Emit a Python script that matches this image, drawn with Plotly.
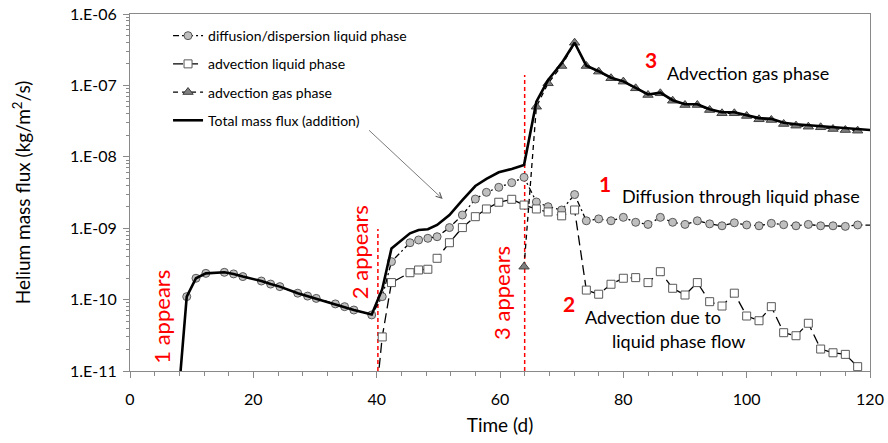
import plotly.graph_objects as go

FONT = "Lato, Carlito, Calibri, sans-serif"

# ---------------- data ----------------
diff_days = [9.2, 10.7, 12.3, 15.3, 16.8, 18.3, 21.3, 22.8, 24.3, 27.2, 28.8, 30.2, 33.3, 34.8, 36.3, 39.2,
             40.9, 42.4, 45.4, 46.8, 48.3, 49.8, 51.8, 53.9, 56.0, 57.8, 59.8, 61.9, 63.9, 65.9, 67.8, 70.0, 72.1,
             74, 76, 78, 80, 82, 84, 86, 88, 90, 92, 94, 96, 98, 100, 102, 104, 106, 108, 110, 112, 114, 116, 118, 122]
diff_vals = [1.10e-10, 1.99e-10, 2.33e-10, 2.41e-10, 2.29e-10, 2.10e-10, 1.82e-10, 1.65e-10, 1.52e-10, 1.23e-10,
             1.12e-10, 1.04e-10, 8.7e-11, 7.96e-11, 7.15e-11, 6.1e-11,
             1.10e-10, 3.40e-10, 6.26e-10, 6.84e-10, 7.22e-10, 7.60e-10, 1.02e-9, 1.53e-9, 2.56e-9, 3.18e-9,
             3.74e-9, 4.34e-9, 5.16e-9, 2.33e-9, 2.0e-9, 1.80e-9, 2.96e-9,
             1.27e-9, 1.35e-9, 1.27e-9, 1.42e-9, 1.21e-9, 1.13e-9, 1.42e-9, 1.21e-9, 1.13e-9, 1.27e-9, 1.15e-9,
             1.08e-9, 1.19e-9, 1.11e-9, 1.08e-9, 1.17e-9, 1.12e-9, 1.08e-9, 1.13e-9, 1.08e-9, 1.08e-9, 1.06e-9,
             1.11e-9, 1.10e-9]

adv_liq_days = [39.2, 40.9, 42.4, 45.4, 46.8, 48.3, 49.8, 51.8, 53.9, 56.0, 57.8, 59.8, 61.9, 63.9, 65.9, 67.8,
                70.0, 72.1, 74, 76, 78, 80, 82, 84, 86, 88, 90, 92, 94, 96, 98, 100, 102, 104, 106, 108, 110,
                112, 114, 116, 118]
adv_liq_vals = [1.0e-12, 3.0e-11, 1.73e-10, 2.38e-10, 2.60e-10, 2.66e-10, 3.79e-10, 6.26e-10, 1.02e-9, 1.45e-9,
                1.86e-9, 2.31e-9, 2.54e-9, 2.11e-9, 1.86e-9, 1.69e-9, 1.49e-9, 1.80e-9,
                1.36e-10, 1.19e-10, 1.64e-10, 1.99e-10, 2.03e-10, 1.73e-10, 2.46e-10, 1.44e-10, 1.16e-10,
                1.73e-10, 9.35e-11, 8.13e-11, 1.23e-10, 5.89e-11, 5.06e-11, 7.96e-11, 3.44e-11, 3.12e-11,
                4.66e-11, 2.03e-11, 1.80e-11, 1.71e-11, 1.15e-11]

adv_gas_days = [63.9, 65.9, 67.8, 70.0, 72.1, 74, 76, 78, 80, 82, 84, 86, 88, 90, 92, 94, 96, 98, 100, 102,
                104, 106, 108, 110, 112, 114, 116, 118]
adv_gas_vals = [2.89e-10, 5.03e-8, 1.07e-7, 1.87e-7, 3.96e-7, 1.87e-7, 1.56e-7, 1.26e-7, 1.13e-7, 9.1e-8,
                7.34e-8, 7.75e-8, 6.1e-8, 5.31e-8, 5.31e-8, 4.52e-8, 4.07e-8, 4.07e-8, 3.73e-8, 3.35e-8,
                3.28e-8, 2.88e-8, 2.73e-8, 2.64e-8, 2.59e-8, 2.45e-8, 2.37e-8, 2.32e-8]

total_days = [7.7, 9.2, 10.7, 12.3, 15.3, 16.8, 18.3, 21.3, 22.8, 24.3, 27.2, 28.8, 30.2, 33.3, 34.8, 36.3, 39.2,
              40.9, 42.4, 45.4, 46.8, 48.3, 49.8, 51.8, 53.9, 56.0, 57.8, 59.8, 61.9, 63.9, 65.9, 67.8, 70.0, 72.1,
              74, 76, 78, 80, 82, 84, 86, 88, 90, 92, 94, 96, 98, 100, 102, 104, 106, 108, 110, 112, 114, 116,
              118, 122]
total_vals = [3.0e-12, 1.10e-10, 1.99e-10, 2.33e-10, 2.41e-10, 2.29e-10, 2.10e-10, 1.82e-10, 1.65e-10, 1.52e-10,
              1.23e-10, 1.12e-10, 1.04e-10, 8.7e-11, 7.96e-11, 7.15e-11, 6.2e-11,
              1.4e-10, 5.2e-10, 8.49e-10, 9.44e-10, 9.66e-10, 1.11e-9, 1.53e-9, 2.48e-9, 3.90e-9, 4.89e-9,
              6.07e-9, 6.75e-9, 7.67e-9, 5.91e-8, 1.19e-7, 2.04e-7, 3.96e-7,
              1.89e-7, 1.58e-7, 1.28e-7, 1.14e-7, 9.25e-8, 7.46e-8, 7.9e-8, 6.2e-8, 5.45e-8, 5.45e-8, 4.65e-8,
              4.2e-8, 4.2e-8, 3.85e-8, 3.48e-8, 3.4e-8, 3.0e-8, 2.85e-8, 2.76e-8, 2.7e-8, 2.57e-8, 2.48e-8,
              2.43e-8, 2.3e-8]

appear_days = [40.2, 64.0]
appear_tops = [9.75e-10, 1.4e-7]

x_tick_vals = [0, 20, 40, 60, 80, 100, 120]
y_tick_vals = [1e-11, 1e-10, 1e-9, 1e-8, 1e-7, 1e-6]
y_tick_text = ["1.E-11", "1.E-10", "1.E-09", "1.E-08", "1.E-07", "1.E-06"]
y_minor_vals = [m * v for v in y_tick_vals[:-1] for m in range(2, 10)]

names = ["diffusion/dispersion liquid phase", "advection liquid phase", "advection gas phase",
         "Total mass flux (addition)"]

fig = go.Figure()

# red "appears" markers
for d, top in zip(appear_days, appear_tops):
    fig.add_trace(go.Scatter(x=[d, d], y=[1e-11, top], mode="lines", showlegend=False,
                             line=dict(color="#ff0000", width=1.5, dash="4px,3px"), hoverinfo="skip"))

fig.add_trace(go.Scatter(x=diff_days, y=diff_vals, name=names[0], mode="lines+markers", legendgroup="a",
                         line=dict(color="black", width=1.3, dash="6px,3px,2px,3px"),
                         marker=dict(symbol="circle", size=8, color="#bfbfbf",
                                     line=dict(color="#595959", width=1))))
fig.add_trace(go.Scatter(x=adv_liq_days, y=adv_liq_vals, name=names[1], mode="lines+markers", legendgroup="b",
                         line=dict(color="black", width=1.3, dash="10px,5px"),
                         marker=dict(symbol="square", size=8, color="white",
                                     line=dict(color="#595959", width=1))))
fig.add_trace(go.Scatter(x=adv_gas_days, y=adv_gas_vals, name=names[2], mode="lines+markers", legendgroup="c",
                         line=dict(color="black", width=1.3, dash="5px,4px"),
                         marker=dict(symbol="triangle-up", size=9, color="#7f7f7f",
                                     line=dict(color="#404040", width=1))))
fig.add_trace(go.Scatter(x=total_days, y=total_vals, name=names[3], mode="lines", legendgroup="d",
                         line=dict(color="black", width=2.6)))

red = dict(family=FONT, size=22, color="#ff0000")
ann = []
for txt, x, y in [("1 appears", 5.06, -10.237), ("2 appears", 37.24, -9.34), ("3 appears", 60.23, -9.90)]:
    ann.append(dict(x=x, y=y, text=txt, showarrow=False, textangle=-90, font=red,
                    xanchor="center", yanchor="middle"))
redb = dict(family=FONT, size=21, color="#ff0000", weight="bold")
for txt, x, y in [("3", 84.46, -6.644), ("1", 76.99, -8.367), ("2", 71.15, -10.048)]:
    ann.append(dict(x=x, y=y, text="<b>" + txt + "</b>", showarrow=False, font=redb,
                    xanchor="center", yanchor="middle"))
blk = dict(family=FONT, size=18, color="black")
ann.append(dict(x=86.73, y=-6.826, text="Advection gas phase", showarrow=False, font=blk,
                xanchor="left", yanchor="middle"))
ann.append(dict(x=79.42, y=-8.549, text="Diffusion through liquid phase", showarrow=False, font=blk,
                xanchor="left", yanchor="middle"))
ann.append(dict(x=84.86, y=-10.244, text="Advection due to", showarrow=False, font=blk,
                xanchor="center", yanchor="middle"))
ann.append(dict(x=89.03, y=-10.58, text="liquid phase flow", showarrow=False, font=blk,
                xanchor="center", yanchor="middle"))
# arrow pointing to total line
ann.append(dict(x=50.7, y=-8.591, ax=38.2, ay=-7.583, axref="x", ayref="y", xref="x", yref="y",
                text=" ", showarrow=True, arrowhead=5, arrowsize=1.4, arrowwidth=0.8,
                arrowcolor="#595959"))

fig.update_layout(
    width=888, height=443,
    margin=dict(l=130, r=18, t=14, b=72),
    paper_bgcolor="white", plot_bgcolor="white",
    font=dict(family=FONT, size=16, color="black"),
    showlegend=True,
    legend=dict(x=0.0514, y=0.983, xanchor="left", yanchor="top", bgcolor="rgba(0,0,0,0)",
                font=dict(family=FONT, size=14, color="black"), tracegroupgap=7,
                itemwidth=30),
    annotations=ann,
)
fig.update_xaxes(range=[0, 120], tickvals=x_tick_vals, ticks="outside", ticklen=6, tickcolor="#898989",
                 showline=True, linecolor="#898989", linewidth=1, mirror=True, showgrid=False, zeroline=False,
                 minor=dict(dtick=4, ticks="outside", ticklen=4, tickcolor="#898989", showgrid=False),
                 ticklabelstandoff=8, automargin=False,
                 tickfont=dict(family=FONT, size=16),
                 title=dict(text="Time (d)", font=dict(family=FONT, size=19), standoff=11))
fig.update_yaxes(type="log", range=[-11, -6], tickvals=y_tick_vals, ticktext=y_tick_text, ticks="outside",
                 ticklen=6, tickcolor="#898989", showline=True, linecolor="#898989", linewidth=1, mirror=True,
                 showgrid=False, zeroline=False, automargin=False,
                 minor=dict(tickvals=y_minor_vals, ticks="outside", ticklen=3, tickcolor="#898989",
                            showgrid=False),
                 ticklabelstandoff=3,
                 tickfont=dict(family=FONT, size=16),
                 title=dict(text="Helium mass flux (kg/m<sup>2</sup>/s)", font=dict(family=FONT, size=19),
                            standoff=34))

fig.write_html("out.html", config={"displayModeBar": False},
               post_script="document.body.style.margin='0px';")
